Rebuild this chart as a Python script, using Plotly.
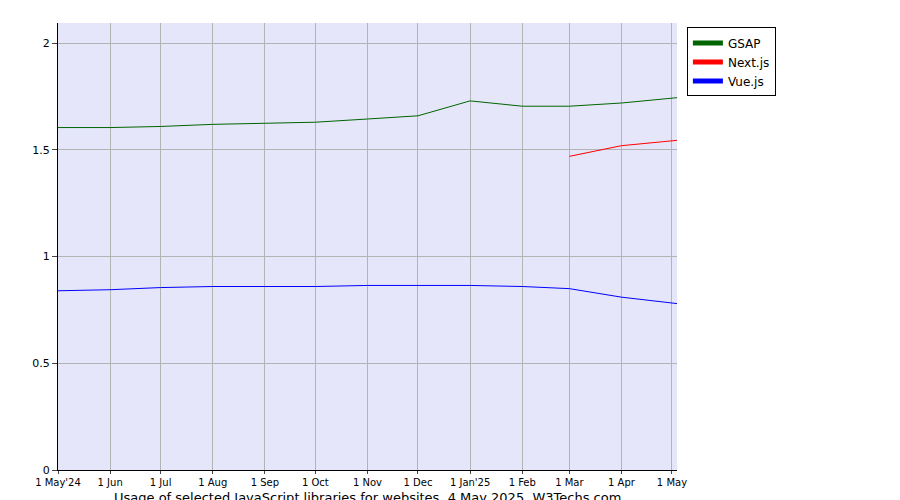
import plotly.graph_objects as go

# month-start dates plus the last reading on 4 May 2025
dates = ["2024-05-01", "2024-06-01", "2024-07-01", "2024-08-01", "2024-09-01",
         "2024-10-01", "2024-11-01", "2024-12-01", "2025-01-01", "2025-02-01",
         "2025-03-01", "2025-04-01", "2025-05-04"]
gsap = [1.605, 1.605, 1.61, 1.62, 1.625, 1.63, 1.645, 1.66, 1.73, 1.705, 1.705, 1.72, 1.745]
next_dates = ["2025-03-01", "2025-04-01", "2025-05-04"]
nextjs = [1.47, 1.52, 1.545]
vue = [0.84, 0.845, 0.855, 0.86, 0.86, 0.86, 0.865, 0.865, 0.865, 0.86, 0.85, 0.81, 0.78]

tick_vals = ["2024-05-01", "2024-06-01", "2024-07-01", "2024-08-01", "2024-09-01",
             "2024-10-01", "2024-11-01", "2024-12-01", "2025-01-01", "2025-02-01",
             "2025-03-01", "2025-04-01", "2025-05-01"]
tick_text = ["1 May'24", "1 Jun", "1 Jul", "1 Aug", "1 Sep", "1 Oct", "1 Nov",
             "1 Dec", "1 Jan'25", "1 Feb", "1 Mar", "1 Apr", "1 May"]

fig = go.Figure()
fig.add_trace(go.Scatter(x=dates, y=gsap, name="GSAP", mode="lines",
                         line=dict(color="#006400", width=1)))
fig.add_trace(go.Scatter(x=next_dates, y=nextjs, name="Next.js", mode="lines",
                         line=dict(color="#ff0000", width=1)))
fig.add_trace(go.Scatter(x=dates, y=vue, name="Vue.js", mode="lines",
                         line=dict(color="#0000ff", width=1)))

fig.update_layout(
    width=900, height=500,
    margin=dict(l=50, r=231, t=15, b=38, autoexpand=False),
    paper_bgcolor="white", plot_bgcolor="#e6e6fa",
    font=dict(family="DejaVu Sans", size=11, color="black"),
    legend=dict(x=1.016, y=0.99, xanchor="left", yanchor="top",
                bordercolor="black", borderwidth=1, bgcolor="white",
                font=dict(size=12), tracegroupgap=0, itemwidth=30,
                itemsizing="constant", entrywidthmode="pixels"),
    annotations=[dict(text="Usage of selected JavaScript libraries for websites, 4 May 2025, W3Techs.com",
                      x=0.5, y=-0.04, xref="paper", yref="paper", showarrow=False,
                      xanchor="center", yanchor="top", font=dict(size=13))],
)
fig.update_xaxes(range=["2024-05-01", "2025-05-04"], tickvals=tick_vals, ticktext=tick_text,
                 tickangle=0, showgrid=True, gridcolor="#b4b4b4", ticks="outside", ticklen=3,
                 tickfont=dict(size=10), showline=True, linecolor="black", zeroline=False,
                 automargin=False)
fig.update_yaxes(range=[0, 2.095], tickvals=[0, 0.5, 1, 1.5, 2], ticktext=["0", "0.5", "1", "1.5", "2"],
                 showgrid=True, gridcolor="#b4b4b4", ticks="outside", ticklen=5,
                 showline=True, linecolor="black", zeroline=False, automargin=False)

fig.write_html("out.html")
